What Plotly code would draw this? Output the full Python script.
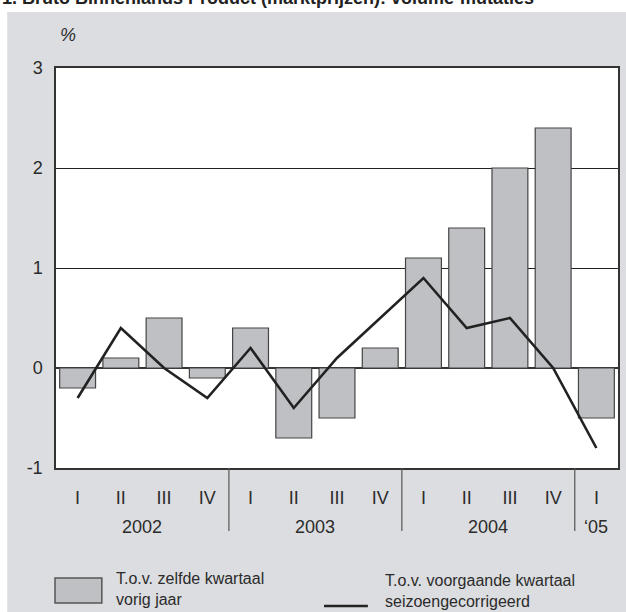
import plotly.graph_objects as go

# ---- data ----
quarters = ["I", "II", "III", "IV", "I", "II", "III", "IV", "I", "II", "III", "IV", "I"]
years = ["2002", "2003", "2004", "\u201805"]
year_quarter_counts = [4, 4, 4, 1]
yoy_growth = [-0.2, 0.1, 0.5, -0.1, 0.4, -0.7, -0.5, 0.2, 1.1, 1.4, 2.0, 2.4, -0.5]
qoq_growth_sa = [-0.3, 0.4, 0.0, -0.3, 0.2, -0.4, 0.1, 0.5, 0.9, 0.4, 0.5, 0.0, -0.8]
y_ticks = [-1, 0, 1, 2, 3]
title_text = "1. Bruto Binnenlands Product (marktprijzen): volume-mutaties"
legend_bar = "T.o.v. zelfde kwartaal<br>vorig jaar"
legend_line = "T.o.v. voorgaande kwartaal<br>seizoengecorrigeerd"

# ---- geometry (pixels) ----
W, H = 626, 612
L, R, T, B = 56, 6, 68, 144
PW, PH = W - L - R, H - T - B


def px(x):
    return (x - L) / PW


def py(y):
    return (H - B - y) / PH


FONT = "Liberation Sans, Arial, sans-serif"
TXT = "#2b2b2b"
BAR_FILL = "#bfc0c4"

xs = list(range(len(quarters)))

fig = go.Figure()
fig.add_trace(go.Bar(
    x=xs, y=yoy_growth, name="T.o.v. zelfde kwartaal vorig jaar",
    marker=dict(color=BAR_FILL, line=dict(color="#444444", width=1.2)),
))
fig.add_trace(go.Scatter(
    x=xs, y=qoq_growth_sa, mode="lines", name="T.o.v. voorgaande kwartaal seizoengecorrigeerd",
    line=dict(color="#222222", width=2.6),
))

shapes = [
    # grey panel
    dict(type="rect", xref="paper", yref="paper", x0=px(7), x1=px(640), y0=py(640), y1=py(12),
         fillcolor="#dcdde0", line=dict(width=0), layer="below"),
    # white plot area
    dict(type="rect", xref="paper", yref="paper", x0=0, x1=1, y0=0, y1=1,
         fillcolor="white", line=dict(width=0), layer="below"),
    # legend box
    dict(type="rect", xref="paper", yref="paper", x0=px(55), x1=px(102), y0=py(603), y1=py(578),
         fillcolor=BAR_FILL, line=dict(color="#555555", width=1.5)),
    # legend line
    dict(type="line", xref="paper", yref="paper", x0=px(325), x1=px(369), y0=py(606), y1=py(606),
         line=dict(color="#222222", width=2.6)),
]

# year separators and labels
annotations = []
start = 0
for i, (yr, n) in enumerate(zip(years, year_quarter_counts)):
    center = start + (n - 1) / 2
    annotations.append(dict(x=center, y=py(527), xref="x", yref="paper", text=yr, showarrow=False,
                            font=dict(family=FONT, size=18, color=TXT), xanchor="center", yanchor="middle"))
    if i > 0:
        shapes.append(dict(type="line", xref="x", yref="paper", x0=start - 0.5, x1=start - 0.5,
                           y0=0, y1=py(531), line=dict(color="#555555", width=1.2)))
    start += n

annotations += [
    dict(x=px(0), y=py(-2), xref="paper", yref="paper", text="<b>" + title_text + "</b>", showarrow=False,
         font=dict(family=FONT, size=18, color="#222222"), xanchor="left", yanchor="middle"),
    dict(x=px(58), y=py(35), xref="paper", yref="paper", text="<i>%</i>", showarrow=False,
         font=dict(family=FONT, size=18, color=TXT), xanchor="left", yanchor="middle"),
    dict(x=px(114), y=py(589), xref="paper", yref="paper", text=legend_bar, showarrow=False,
         font=dict(family=FONT, size=16, color=TXT), xanchor="left", yanchor="middle", align="left"),
    dict(x=px(384), y=py(591), xref="paper", yref="paper", text=legend_line, showarrow=False,
         font=dict(family=FONT, size=16, color=TXT), xanchor="left", yanchor="middle", align="left"),
]

fig.update_layout(
    width=W, height=H,
    margin=dict(l=L, r=R, t=T, b=B, pad=0),
    paper_bgcolor="white", plot_bgcolor="white",
    showlegend=False, bargap=0.17,
    shapes=shapes, annotations=annotations,
    font=dict(family=FONT, size=18, color=TXT),
)
fig.update_xaxes(
    range=[-0.5, len(quarters) - 0.5], tickmode="array", tickvals=xs, ticktext=quarters,
    ticks="outside", ticklen=13, tickcolor="rgba(0,0,0,0)",
    showline=True, linecolor="#333333", linewidth=1.5, mirror=True, showgrid=False,
    tickfont=dict(family=FONT, size=18, color=TXT),
)
fig.update_yaxes(
    range=[-1, 3], tickmode="array", tickvals=y_ticks, ticktext=[str(v) for v in y_ticks],
    ticks="outside", ticklen=8, tickcolor="rgba(0,0,0,0)",
    showline=True, linecolor="#333333", linewidth=1.5, mirror=True,
    showgrid=True, gridcolor="#222222", gridwidth=1,
    zeroline=True, zerolinecolor="#333333", zerolinewidth=1.5,
    tickfont=dict(family=FONT, size=18, color=TXT),
)

fig.write_html(
    "out.html",
    config={"displayModeBar": False},
    post_script="document.body.style.margin='0';document.body.style.overflow='hidden';",
)
